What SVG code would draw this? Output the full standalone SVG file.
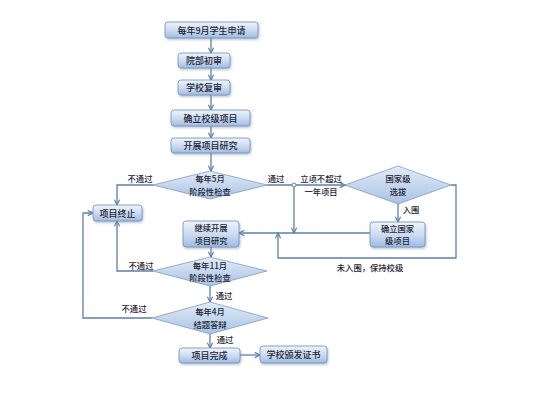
<svg xmlns="http://www.w3.org/2000/svg" width="533" height="400" viewBox="0 0 533 400">
<defs>
<linearGradient id="gb" x1="0" y1="0" x2="0" y2="1">
<stop offset="0" stop-color="#eef4fc"/>
<stop offset="0.5" stop-color="#cddcf1"/>
<stop offset="1" stop-color="#9fbce2"/>
</linearGradient>
<linearGradient id="gd" x1="0" y1="0" x2="0" y2="1">
<stop offset="0" stop-color="#e2ecf8"/>
<stop offset="1" stop-color="#a8c2e4"/>
</linearGradient>
<filter id="sh" x="-10%" y="-20%" width="130%" height="160%">
<feDropShadow dx="1" dy="1.5" stdDeviation="1" flood-color="#7a8aa0" flood-opacity="0.5"/>
</filter>
<marker id="ar" viewBox="0 0 8 8" refX="7" refY="4" markerWidth="7" markerHeight="7" markerUnits="userSpaceOnUse" orient="auto">
<path d="M1,1 L7,4 L1,7" fill="none" stroke="#5f7fa6" stroke-width="1.3"/>
</marker>
</defs>
<style>
.box{fill:url(#gb);stroke:#6f8fb8;stroke-width:0.8;filter:url(#sh)}
.dia{fill:url(#gd);stroke:#7f9cc2;stroke-width:0.8}
.t{font-family:"Noto Sans CJK SC","Noto Sans",sans-serif;font-size:9px;fill:#1e2433;text-anchor:middle;font-weight:500}
.t2{font-family:"Noto Sans CJK SC","Noto Sans",sans-serif;font-size:8.3px;fill:#1e2433;text-anchor:middle;font-weight:500}
.l{font-family:"Noto Sans CJK SC","Noto Sans",sans-serif;font-size:8.3px;fill:#1e2433;text-anchor:middle;font-weight:500}
.c{fill:none;stroke:#5f7fa6;stroke-width:1.3}
</style>
<rect width="533" height="400" fill="#ffffff"/>
<g id="connectors">
<path class="c" d="M211,38 V53" marker-end="url(#ar)"/>
<path class="c" d="M211,68 V80" marker-end="url(#ar)"/>
<path class="c" d="M211,95 V110" marker-end="url(#ar)"/>
<path class="c" d="M211,126 V138" marker-end="url(#ar)"/>
<path class="c" d="M211,153 V171" marker-end="url(#ar)"/>
<path class="c" d="M267,185 H345" marker-end="url(#ar)"/>
<circle cx="294" cy="185" r="2" fill="#ffffff" stroke="#5f7fa6" stroke-width="1"/>
<path class="c" d="M294,187 V233" marker-end="url(#ar)"/>
<path class="c" d="M370,233 H239" marker-end="url(#ar)"/>
<path class="c" d="M451,185 H456 V258 H278 V233" marker-end="url(#ar)"/>
<path class="c" d="M398,204 V222" marker-end="url(#ar)"/>
<path class="c" d="M211,247 V257" marker-end="url(#ar)"/>
<path class="c" d="M210,286 V302" marker-end="url(#ar)"/>
<path class="c" d="M210,334 V348" marker-end="url(#ar)"/>
<path class="c" d="M240,355 H260" marker-end="url(#ar)"/>
<path class="c" d="M153,185 H117 V205" marker-end="url(#ar)"/>
<path class="c" d="M153,271 H117 V221" marker-end="url(#ar)"/>
<path class="c" d="M152,318 H83 V213 H93" marker-end="url(#ar)"/>
<text class="l" x="140" y="182">不通过</text>
<text class="l" x="276" y="182">通过</text>
<text class="l" x="321" y="182">立项不超过</text>
<text class="l" x="321" y="194.5">一年项目</text>
<text class="l" x="411" y="213">入围</text>
<text class="l" x="370" y="271">未入围，保持校级</text>
<text class="l" x="141" y="268.5">不通过</text>
<text class="l" x="224" y="299">通过</text>
<text class="l" x="134" y="312">不通过</text>
<text class="l" x="225" y="343">通过</text>
</g>
<g id="n1"><rect class="box" x="165" y="22" width="93" height="16" rx="3"/><text class="t" x="211.5" y="33.5">每年9月学生申请</text></g>
<g id="n2"><rect class="box" x="178" y="53" width="52" height="15" rx="3"/><text class="t" x="204" y="64">院部初审</text></g>
<g id="n3"><rect class="box" x="178" y="80" width="52" height="15" rx="3"/><text class="t" x="204" y="91">学校复审</text></g>
<g id="n4"><rect class="box" x="171" y="110" width="79" height="16" rx="3"/><text class="t" x="210.5" y="121.5">确立校级项目</text></g>
<g id="n5"><rect class="box" x="171" y="138" width="79" height="15" rx="3"/><text class="t" x="210.5" y="149">开展项目研究</text></g>
<g id="d1"><polygon class="dia" points="210,171 267,185 210,199 153,185"/><text class="t2" x="210" y="182">每年5月</text><text class="t2" x="210" y="194.5">阶段性检查</text></g>
<g id="d4"><polygon class="dia" points="398,166 451,185 398,204 345,185"/><text class="t2" x="398" y="182">国家级</text><text class="t2" x="398" y="194.5">选拔</text></g>
<g id="n6"><rect class="box" x="93" y="205" width="49" height="16" rx="3"/><text class="t" x="117.5" y="216.5">项目终止</text></g>
<g id="n7"><rect class="box" x="183" y="221" width="56" height="26" rx="3"/><text class="t2" x="211" y="231">继续开展</text><text class="t2" x="211" y="243.5">项目研究</text></g>
<g id="n8"><rect class="box" x="370" y="222" width="55" height="25" rx="3"/><text class="t2" x="397.5" y="231.5">确立国家</text><text class="t2" x="397.5" y="244">级项目</text></g>
<g id="d2"><polygon class="dia" points="210,257 267,271 210,286 153,271"/><text class="t2" x="210" y="268.5">每年11月</text><text class="t2" x="210" y="281">阶段性检查</text></g>
<g id="d3"><polygon class="dia" points="210,302 268,318 210,334 152,318"/><text class="t2" x="210" y="315">每年4月</text><text class="t2" x="210" y="327.5">结题答辩</text></g>
<g id="n9"><rect class="box" x="179" y="348" width="61" height="15" rx="3"/><text class="t" x="209.5" y="359">项目完成</text></g>
<g id="n10"><rect class="box" x="260" y="346" width="67" height="17" rx="3"/><text class="t" x="293.5" y="358">学校颁发证书</text></g>
</svg>
